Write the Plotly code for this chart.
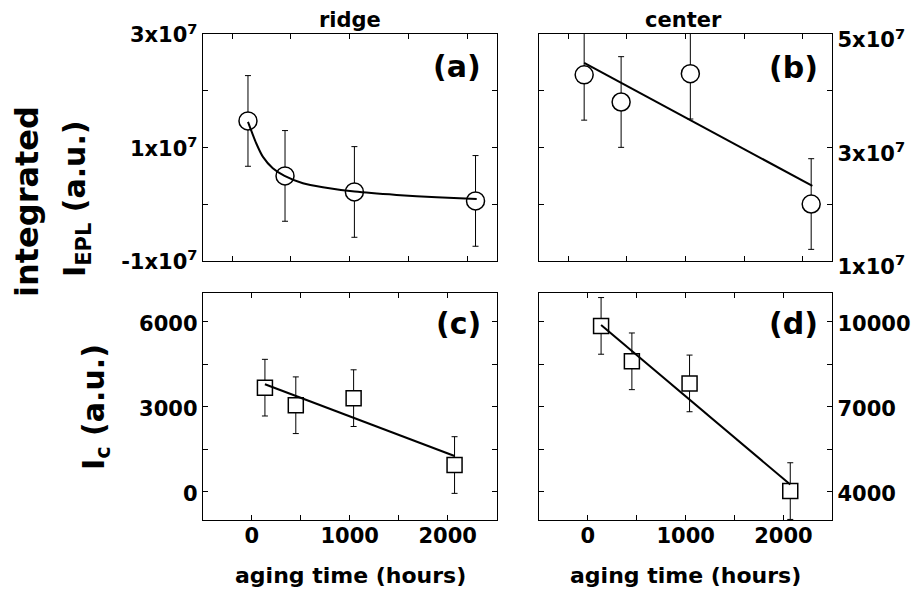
import plotly.graph_objects as go

# ---- data ----
aging_hours = [135, 450, 1040, 2070]

epl_ridge = [1.466e7, 0.496e7, 0.213e7, 0.055e7]
epl_ridge_err = [0.8e7, 0.8e7, 0.8e7, 0.8e7]
epl_center = [4.28e7, 3.80e7, 4.30e7, 2.00e7]
epl_center_err = [0.8e7, 0.8e7, 0.8e7, 0.8e7]

ic_ridge = [3670, 3050, 3300, 940]
ic_ridge_err = [1000, 1000, 1000, 1000]
ic_center = [9850, 8600, 7820, 4020]
ic_center_err = [1000, 1000, 1000, 1000]

fit_a_x = [135, 205, 261, 346, 446, 602, 772, 1042, 1398, 1739, 2080]
fit_a_y = [1.45e7, 1.072e7, 0.836e7, 0.631e7, 0.496e7, 0.367e7, 0.296e7, 0.219e7, 0.160e7, 0.120e7, 0.090e7]
fit_b_x = [135, 2080]
fit_b_y = [4.49e7, 2.32e7]
fit_c_x = [135, 2070]
fit_c_y = [3790, 1260]
fit_d_x = [135, 2070]
fit_d_y = [9885, 4250]

top_ticks = [-1e7, 1e7, 3e7]
top_ticktext = ["-1x10<sup>7</sup>", "1x10<sup>7</sup>", "3x10<sup>7</sup>"]
topr_ticks = [1e7, 3e7, 5e7]
topr_ticktext = ["1x10<sup>7</sup>", "3x10<sup>7</sup>", "5x10<sup>7</sup>"]
ic_ridge_ticks = [0, 3000, 6000]
ic_center_ticks = [4000, 7000, 10000]

W, H = 915, 590
FONT = "DejaVu Sans"

def px(x):
    return x / W

def py(y):
    return 1 - y / H

fig = go.Figure()

panels = [
    ("x", "y", epl_ridge, epl_ridge_err, "circle", 18, fit_a_x, fit_a_y, "spline"),
    ("x2", "y2", epl_center, epl_center_err, "circle", 18, fit_b_x, fit_b_y, "linear"),
    ("x3", "y3", ic_ridge, ic_ridge_err, "square", 15, fit_c_x, fit_c_y, "linear"),
    ("x4", "y4", ic_center, ic_center_err, "square", 15, fit_d_x, fit_d_y, "linear"),
]
for xa, ya, vals, errs, sym, sz, fx, fy, shape in panels:
    fig.add_trace(go.Scatter(
        x=aging_hours, y=vals, mode="markers", xaxis=xa, yaxis=ya,
        marker=dict(symbol=sym, size=sz, color="white", line=dict(color="black", width=1.5)),
        error_y=dict(type="data", array=errs, color="black", thickness=1, width=3),
        showlegend=False))
    fig.add_trace(go.Scatter(
        x=fx, y=fy, mode="lines", xaxis=xa, yaxis=ya,
        line=dict(color="black", width=2, shape=shape, smoothing=0.6),
        showlegend=False))

xl = [202.7 / W, 496.7 / W]
xr = [539 / W, 832.3 / W]
yt = [py(260.7), py(34)]
yb = [py(520), py(293.3)]

tickfont = dict(family=FONT, size=21, color="black", weight="bold")
common = dict(showline=True, linecolor="black", linewidth=1, mirror="ticks",
              ticks="inside", ticklen=5, tickcolor="black", showgrid=False,
              zeroline=False, tickfont=tickfont, automargin=False)
minor = dict(ticks="inside", ticklen=5, tickcolor="black", showgrid=False)

fig.update_layout(
    width=W, height=H, margin=dict(l=0, r=0, t=0, b=0, pad=0, autoexpand=False),
    paper_bgcolor="white", plot_bgcolor="white",
    xaxis=dict(domain=xl, anchor="y", range=[-250, 2250], tick0=0, dtick=500,
               showticklabels=False, **common),
    xaxis2=dict(domain=xr, anchor="y2", range=[-250, 2250], tick0=0, dtick=500,
                showticklabels=False, **common),
    xaxis3=dict(domain=xl, anchor="y3", range=[-500, 2500], tick0=0, dtick=1000,
                ticklabelstandoff=-3, minor=dict(dtick=500, **minor), **common),
    xaxis4=dict(domain=xr, anchor="y4", range=[-500, 2500], tick0=0, dtick=1000,
                ticklabelstandoff=-3, minor=dict(dtick=500, **minor), **common),
    yaxis=dict(domain=yt, anchor="x", range=[-1e7, 3e7], tickmode="array",
               tickvals=top_ticks, ticktext=top_ticktext, ticklabelshift=1,
               minor=dict(tickvals=[0, 2e7], **minor), **common),
    yaxis2=dict(domain=yt, anchor="x2", side="right", range=[1e7, 5e7], tickmode="array",
                tickvals=topr_ticks, ticktext=topr_ticktext, ticklabelshift=6,
                minor=dict(tickvals=[2e7, 4e7], **minor), **common),
    yaxis3=dict(domain=yb, anchor="x3", range=[-1000, 7000], tickmode="array",
                tickvals=ic_ridge_ticks, ticktext=[str(v) for v in ic_ridge_ticks],
                ticklabelshift=2,
                minor=dict(tickvals=[1500, 4500], **minor), **common),
    yaxis4=dict(domain=yb, anchor="x4", side="right", range=[3000, 11000], tickmode="array",
                tickvals=ic_center_ticks, ticktext=[str(v) for v in ic_center_ticks],
                ticklabelshift=2,
                minor=dict(tickvals=[5500, 8500], **minor), **common),
)

def ann(text, x, y, size, angle=0, xanchor="center", yanchor="middle"):
    fig.add_annotation(text=text, x=px(x), y=py(y), xref="paper", yref="paper",
                       showarrow=False, textangle=angle, xanchor=xanchor, yanchor=yanchor,
                       font=dict(family=FONT, size=size, color="black", weight="bold"))

ann("ridge", 350, 20, 21)
ann("center", 683, 20, 21)
ann("(a)", 483, 66, 30, xanchor="right")
ann("(b)", 820, 68, 30, xanchor="right")
ann("(c)", 483, 323, 30, xanchor="right")
ann("(d)", 820, 323, 30, xanchor="right")
ann("aging time (hours)", 350, 575, 22)
ann("aging time (hours)", 685, 575, 22)
ann("integrated", 27, 202, 32, angle=-90)
ann("I<sub>EPL</sub> (a.u.)", 76, 199, 30, angle=-90)
ann("I<sub>c</sub> (a.u.)", 95, 407, 30, angle=-90)

fig.write_html("out.html")
